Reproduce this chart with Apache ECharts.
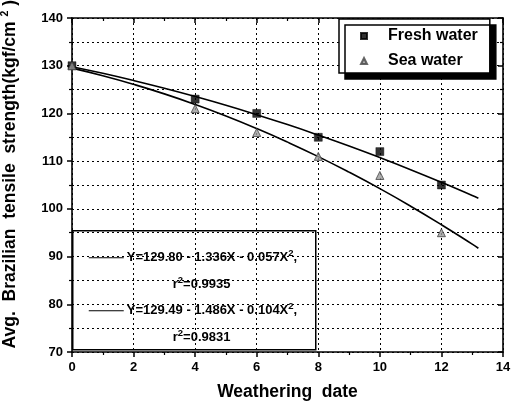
<!DOCTYPE html>
<html>
<head>
<meta charset="utf-8">
<script src="https://cdn.jsdelivr.net/npm/echarts@6/dist/echarts.min.js"></script>
<style>
  html, body { margin: 0; padding: 0; background: #fff; }
  #chart { width: 517px; height: 407px; }
</style>
</head>
<body>
<div id="chart"></div>
<script>
// Measured strength at each weathering date
const days = [0, 4, 6, 8, 10, 12];
const freshWater = [130, 123, 120, 115, 112, 105];
const seaWater = [130, 121, 116, 111, 107, 95];

// Second-order regression curves (values along the fitted line)
const fitX = [0, 1, 2, 3, 4, 5, 6, 7, 8, 9, 10, 11, 12, 13, 13.2];
const freshFit = [129.80, 128.41, 126.90, 125.28, 123.54, 121.70, 119.73, 117.66, 115.46, 113.16, 110.74, 108.21, 105.56, 102.80, 102.23];
const seaFit = [129.49, 127.90, 126.10, 124.10, 121.88, 119.46, 116.83, 113.99, 110.95, 107.69, 104.23, 100.56, 96.68, 92.60, 91.75];

// Regression equations and coefficients of determination
const freshEq = ['129.80', '1.336', '0.057'];
const seaEq = ['129.49', '1.486', '0.104'];
const freshR2 = '0.9935';
const seaR2 = '0.9831';

const seriesNames = ['Fresh water', 'Sea water'];
const xTitle = 'Weathering  date';
const yTitle = 'Avg.  Brazilian  tensile  strength(kgf/cm {sup|2} )';

const FONT = 'Liberation Sans, Arial, sans-serif';

function pairs(xs, ys) { return xs.map((x, i) => [x, ys[i]]); }

const chart = echarts.init(document.getElementById('chart'), null, { renderer: 'canvas' });

const axisLineStyle = { show: true, onZero: false, lineStyle: { color: '#000', width: 1.6 } };
const majorTick = (inside) => ({ show: true, inside, length: 5, lineStyle: { color: '#000', width: 1.5 } });
const minorTick = { show: true, splitNumber: 2, length: 3, lineStyle: { color: '#000', width: 1.2 } };
const dotted = { color: '#000', type: [2, 3], width: 1 };

const eqFont = { fontSize: 13, fontWeight: 'bold', fontFamily: FONT, fill: '#000' };
const eqRich = {
  sup: { fontSize: 9.5, fontWeight: 'bold', fontFamily: FONT, fill: '#000', verticalAlign: 'top', padding: [0, 0, 8, 0] }
};
const eqText = (c) => 'Y=' + c[0] + ' - ' + c[1] + 'X - ' + c[2] + 'X{sup|2},';

const option = {
  animation: false,
  backgroundColor: '#fff',
  grid: { left: 72, right: 14, top: 18, bottom: 55, containLabel: false },
  xAxis: [{
    type: 'value', min: 0, max: 14, interval: 2,
    name: xTitle, nameLocation: 'middle', nameGap: 31,
    nameTextStyle: { fontFamily: FONT, fontWeight: 'bold', fontSize: 17.5, color: '#000' },
    axisLine: axisLineStyle,
    axisTick: majorTick(false),
    minorTick: minorTick,
    axisLabel: { fontFamily: FONT, fontWeight: 'bold', fontSize: 13, color: '#000', margin: 9 },
    splitLine: { show: true, lineStyle: dotted }
  }, {
    type: 'value', min: 0, max: 14, interval: 2, position: 'top',
    axisLine: axisLineStyle,
    axisTick: majorTick(true),
    minorTick: minorTick,
    axisLabel: { show: false }, splitLine: { show: false }
  }],
  yAxis: [{
    type: 'value', min: 70, max: 140, interval: 10,
    axisLine: axisLineStyle,
    axisTick: majorTick(false),
    minorTick: minorTick,
    axisLabel: { fontFamily: FONT, fontWeight: 'bold', fontSize: 13, color: '#000', margin: 9 },
    splitLine: { show: true, lineStyle: dotted },
    minorSplitLine: { show: true, lineStyle: dotted }
  }, {
    type: 'value', min: 70, max: 140, interval: 10, position: 'right',
    axisLine: axisLineStyle,
    axisTick: majorTick(true),
    minorTick: minorTick,
    axisLabel: { show: false }, splitLine: { show: false }
  }],
  legend: {
    show: true,
    data: seriesNames,
    orient: 'vertical',
    left: 339, top: 19,
    padding: [9, 12, 4, 21],
    itemGap: 9,
    itemWidth: 6, itemHeight: 6,
    backgroundColor: '#fff',
    borderColor: '#000', borderWidth: 1.5,
    shadowColor: '#000', shadowBlur: 0, shadowOffsetX: 6, shadowOffsetY: 6,
    textStyle: { fontFamily: FONT, fontWeight: 'bold', fontSize: 16, color: '#000', padding: [0, 0, 0, 16] }
  },
  series: [
    {
      name: 'Fresh water fit', type: 'line', data: pairs(fitX, freshFit),
      showSymbol: false, smooth: true, silent: true,
      lineStyle: { color: '#000', width: 1.6 }, z: 3
    },
    {
      name: 'Sea water fit', type: 'line', data: pairs(fitX, seaFit),
      showSymbol: false, smooth: true, silent: true,
      lineStyle: { color: '#000', width: 1.6 }, z: 3
    },
    {
      name: seriesNames[0], type: 'scatter', data: pairs(days, freshWater),
      symbol: 'rect', symbolSize: 8,
      itemStyle: { color: '#000', borderColor: '#000', borderWidth: 0.5 }, z: 4
    },
    {
      name: seriesNames[1], type: 'scatter', data: pairs(days, seaWater),
      symbol: 'triangle', symbolSize: 8,
      itemStyle: { color: '#9a9a9a', borderColor: '#444', borderWidth: 1 }, z: 4
    }
  ],
  graphic: [
    {
      type: 'text', left: 0, top: 0, z: 100,
      x: 22, y: 186, rotation: Math.PI / 2,
      style: {
        text: yTitle, fontSize: 17.5, fontWeight: 'bold', fontFamily: FONT, fill: '#000',
        align: 'center', verticalAlign: 'middle',
        rich: { sup: { fontSize: 10.5, fontWeight: 'bold', fontFamily: FONT, fill: '#000', verticalAlign: 'top', padding: [0, 0, 10, 0] } }
      }
    },
    {
      type: 'group', left: 72, top: 230, z: 100,
      children: [
        { type: 'rect', shape: { x: 0, y: 0, width: 243, height: 119 },
          style: { fill: '#fff', stroke: '#000', lineWidth: 1.5 } },
        { type: 'line', shape: { x1: 16, y1: 27, x2: 51, y2: 27 }, style: { stroke: '#000', lineWidth: 1 } },
        { type: 'text', x: 54, y: 27,
          style: { text: eqText(freshEq), rich: eqRich, ...eqFont, verticalAlign: 'middle' } },
        { type: 'text', x: 100, y: 53.5,
          style: { text: 'r{sup|2}=' + freshR2, rich: eqRich, ...eqFont, verticalAlign: 'middle' } },
        { type: 'line', shape: { x1: 16, y1: 80, x2: 51, y2: 80 }, style: { stroke: '#000', lineWidth: 1 } },
        { type: 'text', x: 54, y: 80,
          style: { text: eqText(seaEq), rich: eqRich, ...eqFont, verticalAlign: 'middle' } },
        { type: 'text', x: 100, y: 106.5,
          style: { text: 'r{sup|2}=' + seaR2, rich: eqRich, ...eqFont, verticalAlign: 'middle' } }
      ]
    }
  ]
};

chart.setOption(option);
</script>
</body>
</html>
